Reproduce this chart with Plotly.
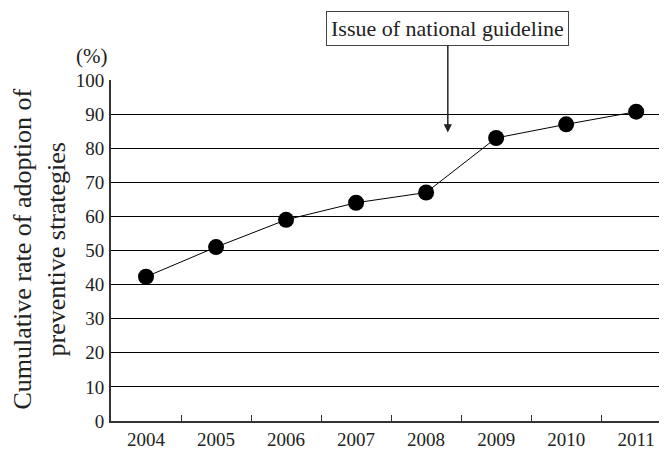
import plotly.graph_objects as go

years = ["2004", "2005", "2006", "2007", "2008", "2009", "2010", "2011"]
rates = [42.3, 51, 59, 64, 67, 83, 87, 90.7]
y_ticks = [0, 10, 20, 30, 40, 50, 60, 70, 80, 90, 100]

FONT = "Liberation Serif"

# page has an 8px body margin; size figure so that it fills the 667x450 window
W, H = 659, 442
L, T, B, R = 103, 72, 24, 0
PW, PH = W - L - R, H - T - B


def px(sx):  # screen x -> paper x
    return (sx - 8 - L) / PW


def py(sy):  # screen y -> paper y
    return (T + PH - (sy - 8)) / PH


fig = go.Figure()
fig.add_trace(go.Scatter(
    x=years, y=rates, mode="lines+markers",
    line=dict(color="black", width=1),
    marker=dict(color="black", size=16),
    showlegend=False,
))

fig.update_layout(
    width=W, height=H,
    margin=dict(l=L, r=R, t=T, b=B),
    paper_bgcolor="white", plot_bgcolor="white",
    font=dict(family=FONT, color="black", size=20),
    xaxis=dict(
        type="category", range=[-0.5, 7.44],
        tickson="boundaries", ticks="inside", ticklen=6, tickcolor="#333",
        showgrid=False, showline=True, linecolor="#333", linewidth=2,
        tickfont=dict(family=FONT, size=19, color="#222"),
        fixedrange=True,
    ),
    yaxis=dict(
        range=[0, 100], tickvals=y_ticks, ticks="",
        showgrid=True, gridcolor="black", gridwidth=1,
        showline=True, linecolor="#333", linewidth=2,
        zeroline=False,
        tickfont=dict(family=FONT, size=19, color="#222"),
        ticklabelstandoff=1,
    ),
    annotations=[
        dict(
            text="Issue of national guideline",
            x=4.31, y=84.6, xref="x", yref="y",
            ax=0, ay=-104, axref="pixel", ayref="pixel",
            showarrow=True, arrowhead=2, arrowsize=1.1, arrowwidth=1.5,
            arrowcolor="#222",
            font=dict(family=FONT, size=22, color="#222"),
            bordercolor="#444", borderwidth=1, borderpad=4,
            bgcolor="white",
        ),
        dict(
            text="(%)", x=px(91), y=py(56), xref="paper", yref="paper",
            xanchor="center", yanchor="middle",
            showarrow=False,
            font=dict(family=FONT, size=21, color="#222"),
        ),
        dict(
            text="Cumulative rate of adoption of<br>preventive strategies",
            xref="paper", yref="paper", x=px(40), y=py(252),
            xanchor="center", yanchor="middle",
            showarrow=False, textangle=-90,
            font=dict(family=FONT, size=26, color="#222"),
        ),
    ],
)

fig.write_html("out.html")
